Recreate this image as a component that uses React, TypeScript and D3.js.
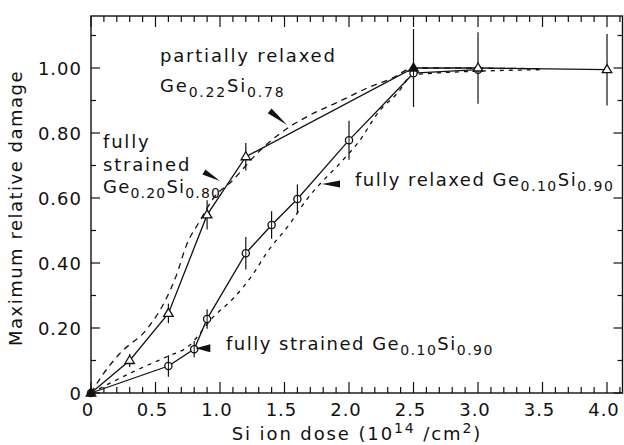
import React from "react";
import * as d3 from "d3";

// ---- data ----
const triX = [0, 0.3, 0.6, 0.9, 1.2, 2.5, 3.0, 4.0];
const triY = [0, 0.1, 0.245, 0.548, 0.727, 1.0, 1.0, 0.995];
const triErr = [0, 0.02, 0.03, 0.045, 0.042, 0.12, 0.11, 0.11];
const triFilledAt = 2.5;

const cirX = [0, 0.6, 0.8, 0.9, 1.2, 1.4, 1.6, 2.0, 2.5, 3.0];
const cirY = [0, 0.083, 0.135, 0.228, 0.43, 0.517, 0.597, 0.778, 0.984, 0.995];
const cirErr = [0, 0.033, 0.025, 0.03, 0.05, 0.042, 0.045, 0.06, 0, 0];

const dashAX = [0, 0.08, 0.22, 0.44, 0.57, 0.66, 0.74, 0.845, 0.95, 1.1, 1.27, 1.47, 1.65, 1.94, 2.15, 2.33, 2.5, 3.5];
const dashAY = [0, 0.05, 0.12, 0.2, 0.28, 0.36, 0.455, 0.53, 0.6, 0.655, 0.73, 0.8, 0.845, 0.9, 0.94, 0.968, 1.0, 0.998];

const dashBX = [0, 0.33, 0.59, 0.75, 0.95, 1.1, 1.26, 1.36, 1.54, 1.67, 1.96, 2.07, 2.24, 2.37, 2.5, 3.5];
const dashBY = [0, 0.066, 0.112, 0.142, 0.235, 0.29, 0.368, 0.43, 0.52, 0.594, 0.72, 0.77, 0.87, 0.92, 0.98, 0.995];

const xTickLabels = ["0", "0.5", "1.0", "1.5", "2.0", "2.5", "3.0", "3.5", "4.0"];
const xTickValues = [0, 0.5, 1, 1.5, 2, 2.5, 3, 3.5, 4];
const yTickLabels = ["0", "0.20", "0.40", "0.60", "0.80", "1.00"];
const yTickValues = [0, 0.2, 0.4, 0.6, 0.8, 1.0];

const W = 624;
const H = 445;
const FONT = "'DejaVu Sans', sans-serif";

export default function App() {
  const x = d3.scaleLinear().domain([0, 4.12]).range([91, 622.5]);
  const y = d3.scaleLinear().domain([0, 1.16]).range([393, 16]);
  const [x0, x1] = x.range();
  const [y0, y1] = y.range();

  const lineGen = d3
    .line<[number, number]>()
    .x((d) => x(d[0]))
    .y((d) => y(d[1]));
  const curveGen = d3
    .line<[number, number]>()
    .x((d) => x(d[0]))
    .y((d) => y(d[1]))
    .curve(d3.curveMonotoneX);

  const tri = triX.map((v, i) => [v, triY[i]] as [number, number]);
  const cir = cirX.map((v, i) => [v, cirY[i]] as [number, number]);
  const dA = dashAX.map((v, i) => [v, dashAY[i]] as [number, number]);
  const dB = dashBX.map((v, i) => [v, dashBY[i]] as [number, number]);

  const xMinor = d3.range(0, 4.12, 0.1);
  const yMinor = d3.range(0, 1.16, 0.1);

  const stroke = "#111";
  const FS = 18;
  const SUB = 14;
  const LS = 1.8;

  const wedge = (tip: [number, number], base: [number, number], half: number) => {
    const tx = x(tip[0]), ty = y(tip[1]);
    const bx = x(base[0]), by = y(base[1]);
    const dx = bx - tx, dy = by - ty;
    const L = Math.hypot(dx, dy);
    const nx = -dy / L, ny = dx / L;
    return `M${tx},${ty}L${bx + nx * half},${by + ny * half}L${bx - nx * half},${by - ny * half}Z`;
  };

  const triPath = (cx: number, cy: number, s: number) =>
    `M${cx},${cy - s}L${cx + s * 0.95},${cy + s * 0.6}L${cx - s * 0.95},${cy + s * 0.6}Z`;

  const geSi = (a: string, b: string) => (
    <>
      Ge<tspan dy={5} fontSize={SUB}>{a}</tspan>
      <tspan dy={-5}>Si</tspan>
      <tspan dy={5} fontSize={SUB}>{b}</tspan>
    </>
  );

  return (
    <svg
      width={W}
      height={H}
      style={{ position: "absolute", left: 0, top: 0, background: "#fff" }}
      fontFamily={FONT}
    >
      {/* frame */}
      <rect x={x0} y={y1} width={x1 - x0} height={y0 - y1} fill="none" stroke={stroke} strokeWidth={1.4} />

      {/* x ticks */}
      {xMinor.map((v, i) => {
        const major = Math.abs(v * 2 - Math.round(v * 2)) < 1e-6;
        const len = major ? 11 : 6;
        return (
          <g key={"xt" + i}>
            <line x1={x(v)} x2={x(v)} y1={y0} y2={y0 - len} stroke={stroke} strokeWidth={1.2} />
            <line x1={x(v)} x2={x(v)} y1={y1} y2={y1 + len} stroke={stroke} strokeWidth={1.2} />
          </g>
        );
      })}
      {/* y ticks */}
      {yMinor.map((v, i) => {
        const major = Math.abs(v * 5 - Math.round(v * 5)) < 1e-6;
        const len = major ? 9 : 5;
        return (
          <g key={"yt" + i}>
            <line x1={x0} x2={x0 + len} y1={y(v)} y2={y(v)} stroke={stroke} strokeWidth={1.2} />
            <line x1={x1} x2={x1 - len} y1={y(v)} y2={y(v)} stroke={stroke} strokeWidth={1.2} />
          </g>
        );
      })}

      {/* tick labels */}
      {xTickValues.map((v, i) => (
        <text key={"xl" + i} x={x(v) - 3} y={416} textAnchor="middle" fontSize={18} letterSpacing={1} fill={stroke}>
          {xTickLabels[i]}
        </text>
      ))}
      {yTickValues.map((v, i) => (
        <text key={"yl" + i} x={82} y={y(v) + 7} textAnchor="end" fontSize={18} letterSpacing={1} fill={stroke}>
          {yTickLabels[i]}
        </text>
      ))}

      {/* axis titles */}
      <text
        transform={`translate(22,${208}) rotate(-90)`}
        textAnchor="middle"
        fontSize={FS}
        letterSpacing={1.5}
        fill={stroke}
      >
        Maximum relative damage
      </text>
      <text x={357} y={440} textAnchor="middle" fontSize={FS} letterSpacing={1.9} fill={stroke}>
        Si ion dose (10
        <tspan dy={-7} fontSize={SUB}>14</tspan>
        <tspan dy={7}> /cm</tspan>
        <tspan dy={-7} fontSize={SUB}>2</tspan>
        <tspan dy={7}>)</tspan>
      </text>

      {/* dashed model curves */}
      <path d={curveGen(dA) || ""} fill="none" stroke={stroke} strokeWidth={1.3} strokeDasharray="6,5" />
      <path d={curveGen(dB) || ""} fill="none" stroke={stroke} strokeWidth={1.3} strokeDasharray="4,5" />

      {/* solid data lines */}
      <path d={lineGen(tri) || ""} fill="none" stroke={stroke} strokeWidth={1.3} />
      <path d={lineGen(cir) || ""} fill="none" stroke={stroke} strokeWidth={1.3} />

      {/* error bars */}
      {tri.map((d, i) =>
        triErr[i] > 0 ? (
          <line key={"te" + i} x1={x(d[0])} x2={x(d[0])} y1={y(d[1] - triErr[i])} y2={y(d[1] + triErr[i])} stroke={stroke} strokeWidth={1.2} />
        ) : null
      )}
      {cir.map((d, i) =>
        cirErr[i] > 0 ? (
          <line key={"ce" + i} x1={x(d[0])} x2={x(d[0])} y1={y(d[1] - cirErr[i])} y2={y(d[1] + cirErr[i])} stroke={stroke} strokeWidth={1.2} />
        ) : null
      )}

      {/* markers */}
      {cir.map((d, i) => (
        <g key={"cm" + i}>
          <circle cx={x(d[0])} cy={y(d[1])} r={3.6} fill="#fff" stroke={stroke} strokeWidth={1.3} />
          <line x1={x(d[0])} x2={x(d[0])} y1={y(d[1]) - 3} y2={y(d[1]) + 3} stroke={stroke} strokeWidth={1} />
        </g>
      ))}
      {tri.map((d, i) => (
        <path
          key={"tm" + i}
          d={triPath(x(d[0]), y(d[1]), 5)}
          fill={d[0] === triFilledAt || d[0] === 0 ? stroke : "#fff"}
          stroke={stroke}
          strokeWidth={1.3}
        />
      ))}

      {/* annotation arrows (wedges) */}
      <path d={wedge([1.52, 0.825], [1.385, 0.868], 3)} fill={stroke} />
      <path d={wedge([1.0, 0.652], [0.875, 0.68], 3)} fill={stroke} />
      <path d={wedge([1.79, 0.643], [1.93, 0.643], 3.5)} fill={stroke} />
      <path d={wedge([0.81, 0.138], [0.925, 0.138], 4)} fill={stroke} />

      {/* annotation texts */}
      <text x={160} y={62} fontSize={FS} letterSpacing={LS} fill={stroke}>
        partially relaxed
      </text>
      <text x={160} y={92} fontSize={FS} letterSpacing={LS} fill={stroke}>
        {geSi("0.22", "0.78")}
      </text>

      <text x={103} y={148} fontSize={FS} letterSpacing={LS} fill={stroke}>
        fully
      </text>
      <text x={103} y={171} fontSize={FS} letterSpacing={LS} fill={stroke}>
        strained
      </text>
      <text x={103} y={193} fontSize={FS} letterSpacing={1.2} fill={stroke}>
        {geSi("0.20", "0.80")}
      </text>

      <text x={355} y={186} fontSize={FS} letterSpacing={1.5} fill={stroke}>
        fully relaxed {geSi("0.10", "0.90")}
      </text>

      <text x={226} y={350} fontSize={FS} letterSpacing={1.5} fill={stroke}>
        fully strained {geSi("0.10", "0.90")}
      </text>
    </svg>
  );
}
